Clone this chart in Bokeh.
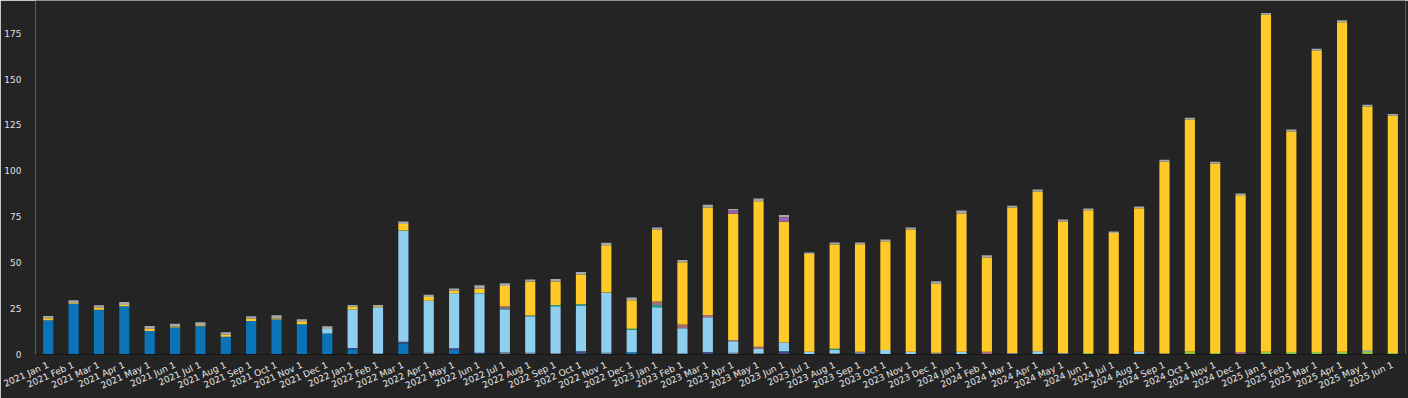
from bokeh.plotting import figure
from bokeh.models import FactorRange, FixedTicker, Range1d
from bokeh.embed import file_html
from bokeh.resources import INLINE

years = ["2021", "2022", "2023", "2024", "2025"]
month_names = ["Jan", "Feb", "Mar", "Apr", "May", "Jun", "Jul", "Aug", "Sep", "Oct", "Nov", "Dec"]
months = [f"{y} {m} 1" for y in years for m in month_names][:54]

# stacked series, bottom to top
lime = [0, 0, 0, 0, 0, 0, 0, 0, 0, 0, 0, 0,
        0, 0, 0, 0, 0, 0, 0, 0, 0, 0, 0, 0,
        0, 0, 0, 0, 0, 0, 0, 0, 0, 0, 0, 0,
        0, 0, 0, 0, 0, 0.8, 0, 0, 0, 1.6, 0.8, 0,
        1.5, 1.3, 1.3, 1.5, 1.5, 0.8]
blue = [18.6, 27.7, 24.4, 26.3, 12.8, 14.7, 15.4, 9.6, 18.3, 19.0, 16.5, 11.4,
        2.9, 0, 6.0, 0, 2.5, 0, 0, 0, 0, 0, 0, 1.2,
        0, 0, 0, 0, 0, 0, 0, 0, 0, 0, 0, 0,
        0, 0, 0, 0, 0, 0, 0, 0, 0, 0, 0, 0,
        0, 0, 0, 0, 0, 0]
slate = [0, 0, 0, 0, 0, 0, 0, 0, 0, 0, 0, 0,
         0, 0.5, 0, 1.0, 0, 0, 1.2, 1.0, 0.8, 0, 1.0, 0,
         0.5, 0.5, 0.6, 1.0, 0.8, 0, 0, 0, 1.5, 0, 0, 1.0,
         0, 0, 0.8, 0, 0.8, 0, 0.4, 0, 0.5, 0, 0, 0,
         0, 0, 0, 0, 0, 0]
navy = [0, 0, 0, 0, 0, 0, 0, 0, 0, 0, 0, 0,
        0.7, 0, 0.9, 0, 0.9, 1.0, 0, 0, 0, 1.8, 0, 0,
        0, 0, 0.8, 0, 0, 1.8, 0, 0.6, 0, 0, 0, 0,
        0, 0, 0, 0, 0, 0, 0, 0, 0, 0, 0, 0,
        0, 0, 0, 0, 0, 0]
sky = [0, 0, 0, 0, 0, 0, 0, 0, 0, 0, 0, 2.5,
       20.9, 25.2, 60.3, 28.3, 29.9, 32.3, 23.4, 19.8, 25.5, 24.6, 32.5, 12.2,
       25.2, 13.8, 18.9, 6.2, 2.2, 4.7, 1.5, 2.0, 0, 2.5, 1.5, 0,
       1.5, 0, 0, 1.8, 0, 0, 0, 1.5, 0, 0, 0, 0,
       0, 0, 0, 0, 0.5, 0]
teal = [0, 0, 0, 0, 0, 0, 0, 0, 0, 0, 0, 0,
        0, 0, 0.4, 0, 0, 0.2, 0.5, 0.5, 0.6, 1.0, 0.3, 0.6,
        1.3, 0, 0, 0, 0, 0, 0, 0.5, 0, 0, 0, 0,
        0, 0, 0, 0, 0, 0, 0, 0, 0, 0, 0, 0,
        0, 0, 0, 0, 0, 0]
rose = [0, 0, 0, 0, 0, 0, 0, 0, 0, 0, 0, 0,
        0, 0, 0, 0, 0, 0, 1.2, 0, 0, 0, 0, 0,
        1.8, 2.0, 1.2, 0.6, 1.2, 0, 0, 0, 0, 0, 0, 0,
        0, 1.5, 0, 0, 0, 0, 0, 0, 0, 0, 0, 1.4,
        0, 0, 0, 0, 0, 0]
gold = [1.2, 0.4, 1.2, 0.6, 1.2, 0.5, 0.5, 1.2, 1.3, 0.6, 1.6, 0,
        1.5, 0.6, 3.5, 2.0, 1.5, 2.5, 11.0, 18.4, 12.8, 16.0, 25.7, 15.5,
        39.2, 33.9, 58.5, 68.8, 79.2, 65.8, 53.2, 56.8, 58.5, 59.2, 66.6, 37.5,
        75.3, 51.3, 79.2, 87.0, 71.7, 77.7, 65.8, 78.1, 104.5, 126.4, 103.2, 85.3,
        183.5, 120.2, 164.2, 179.5, 133.0, 129.2]
purple = [0, 0, 0, 0, 0, 0, 0, 0, 0, 0, 0, 0,
          0, 0, 0, 0, 0, 0, 0, 0, 0, 0, 0, 0,
          0, 0, 0, 2.0, 0, 2.5, 0, 0, 0, 0, 0, 0,
          0, 0, 0, 0, 0, 0, 0, 0, 0, 0, 0, 0,
          0, 0, 0, 0, 0, 0]
grey = [1.2, 1.4, 1.2, 1.7, 1.5, 1.6, 1.6, 1.3, 1.2, 1.8, 1.1, 1.5,
        1.0, 0.7, 1.3, 1.3, 1.1, 1.7, 1.5, 1.1, 1.4, 1.5, 1.4, 1.5,
        1.2, 1.2, 1.5, 0.7, 1.6, 1.2, 0.9, 1.1, 1.0, 1.0, 1.1, 1.4,
        1.6, 1.2, 1.0, 1.0, 1.0, 1.0, 0.8, 1.0, 1.0, 1.0, 1.0, 1.0,
        1.0, 1.0, 1.0, 1.0, 1.0, 1.0]

series = ["lime", "blue", "slate", "navy", "sky", "teal", "rose", "gold", "purple", "grey"]
colors = ["#8cc63f", "#0b73b8", "#6f8198", "#3d4a8c", "#8ecff0", "#1f9e89",
          "#a36d72", "#ffc928", "#9a5fae", "#a8a8a8"]
y_ticks = [0, 25, 50, 75, 100, 125, 150, 175]

data = dict(month=months, lime=lime, blue=blue, slate=slate, navy=navy, sky=sky,
            teal=teal, rose=rose, gold=gold, purple=purple, grey=grey)

BG = "#242424"
p = figure(x_range=FactorRange(factors=months), y_range=Range1d(0, 192.8),
           width=1408, height=398, output_backend="svg", toolbar_location=None,
           background_fill_color=BG, border_fill_color=BG,
           min_border_left=35, min_border_right=3, min_border_top=0, min_border_bottom=44)
p.outline_line_color = None
p.vbar_stack(series, x="month", width=0.4, color=colors, source=data, line_color=None)

p.xgrid.visible = False
p.ygrid.visible = False

p.yaxis.ticker = FixedTicker(ticks=y_ticks)
p.yaxis.axis_line_color = None
p.yaxis.major_tick_line_color = None
p.yaxis.minor_tick_line_color = None
p.yaxis.major_label_standoff = 8
p.yaxis.major_label_text_font = "DejaVu Sans"
p.yaxis.major_label_text_font_size = "9px"
p.yaxis.major_label_text_color = "#e0e0e0"

p.xaxis.axis_line_color = "#161616"
p.xaxis.major_tick_line_color = None
p.xaxis.minor_tick_line_color = None
p.xaxis.major_label_orientation = 0.42
p.xaxis.major_label_standoff = 4
p.xaxis.major_label_text_font = "DejaVu Sans"
p.xaxis.major_label_text_font_size = "9px"
p.xaxis.major_label_text_color = "#e6e6e6"

open("out.html", "w").write(file_html(p, INLINE))
